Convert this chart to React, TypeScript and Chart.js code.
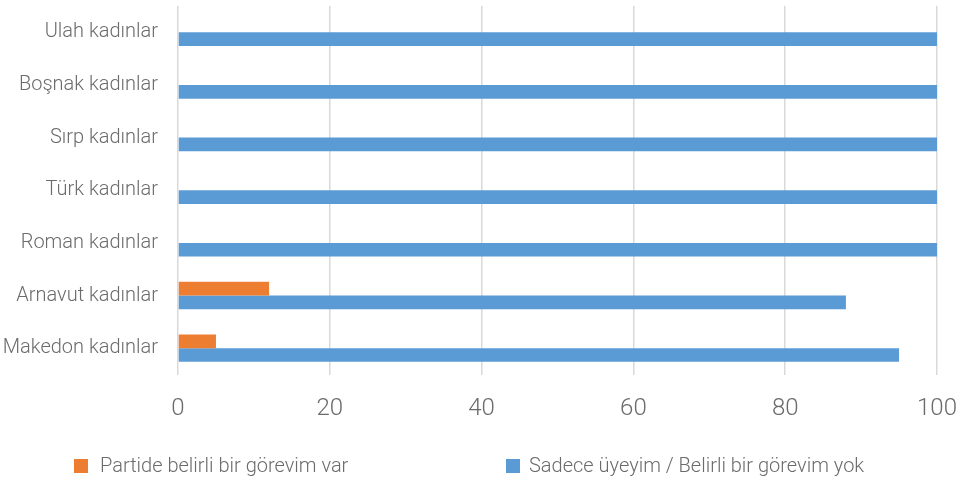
import React, { useEffect, useRef } from "react";
import { Chart, registerables } from "chart.js";

Chart.register(...registerables);

const categories = [
  "Ulah kadınlar",
  "Boşnak kadınlar",
  "Sırp kadınlar",
  "Türk kadınlar",
  "Roman kadınlar",
  "Arnavut kadınlar",
  "Makedon kadınlar",
];
const seriesNames = ["Partide belirli bir görevim var", "Sadece üyeyim / Belirli bir görevim yok"];
const roleValues = [0, 0, 0, 0, 0, 12, 5];
const memberValues = [100, 100, 100, 100, 100, 88, 95];
const xTicks = [0, 20, 40, 60, 80, 100];

const FONT = "Roboto, 'Open Sans', sans-serif";
const TEXT = "#6b6b6b";

const legendPlugin = {
  id: "customLegend",
  afterDraw(chart: any) {
    const ctx = chart.ctx;
    const items = [
      { x: 74, textX: 100 },
      { x: 506, textX: 529 },
    ];
    const y = 466;
    ctx.save();
    ctx.font = `300 20px ${FONT}`;
    ctx.textBaseline = "middle";
    ctx.textAlign = "left";
    chart.data.datasets.forEach((ds: any, i: number) => {
      const it = items[i];
      ctx.fillStyle = ds.backgroundColor;
      ctx.fillRect(it.x, y - 7, 14, 14);
      ctx.fillStyle = TEXT;
      ctx.fillText(ds.label, it.textX, y + 1);
    });
    ctx.restore();
  },
};

export default function App() {
  const ref = useRef<HTMLCanvasElement>(null);
  useEffect(() => {
    if (!ref.current) return;
    const chart = new Chart(ref.current, {
      type: "bar",
      data: {
        labels: categories,
        datasets: [
          { label: seriesNames[0], data: roleValues, backgroundColor: "#ED7D31", borderWidth: 0 },
          { label: seriesNames[1], data: memberValues, backgroundColor: "#5B9BD5", borderWidth: 0 },
        ],
      },
      options: {
        indexAxis: "y",
        animation: false,
        responsive: true,
        maintainAspectRatio: false,
        datasets: { bar: { barPercentage: 1, categoryPercentage: 0.52 } },
        layout: { padding: { top: 6, right: 26, bottom: 60, left: 0 } },
        plugins: {
          legend: { display: false },
          tooltip: { enabled: false },
        },
        scales: {
          x: {
            min: 0,
            max: 100,
            afterBuildTicks: (scale: any) => {
              scale.ticks = xTicks.map((v) => ({ value: v }));
            },
            afterFit: (scale: any) => {
              scale.height = 47.5;
              scale.paddingLeft = 0;
              scale.paddingRight = 0;
            },
            grid: { color: "#d9d9d9", lineWidth: 1.5, drawTicks: false },
            border: { display: false },
            ticks: { color: TEXT, font: { family: FONT, size: 24, weight: 300 }, padding: 20 },
          },
          y: {
            afterFit: (scale: any) => {
              scale.width = 178;
              scale.paddingTop = 0;
              scale.paddingBottom = 0;
            },
            grid: { display: false, drawTicks: false },
            border: { display: false },
            ticks: { color: TEXT, font: { family: FONT, size: 20, weight: 300 }, padding: 20 },
          },
        },
      },
      plugins: [legendPlugin],
    });
    return () => chart.destroy();
  }, []);
  return (
    <div style={{ position: "fixed", left: 0, top: 0, width: 963, height: 482 }}>
      <canvas ref={ref} />
    </div>
  );
}
